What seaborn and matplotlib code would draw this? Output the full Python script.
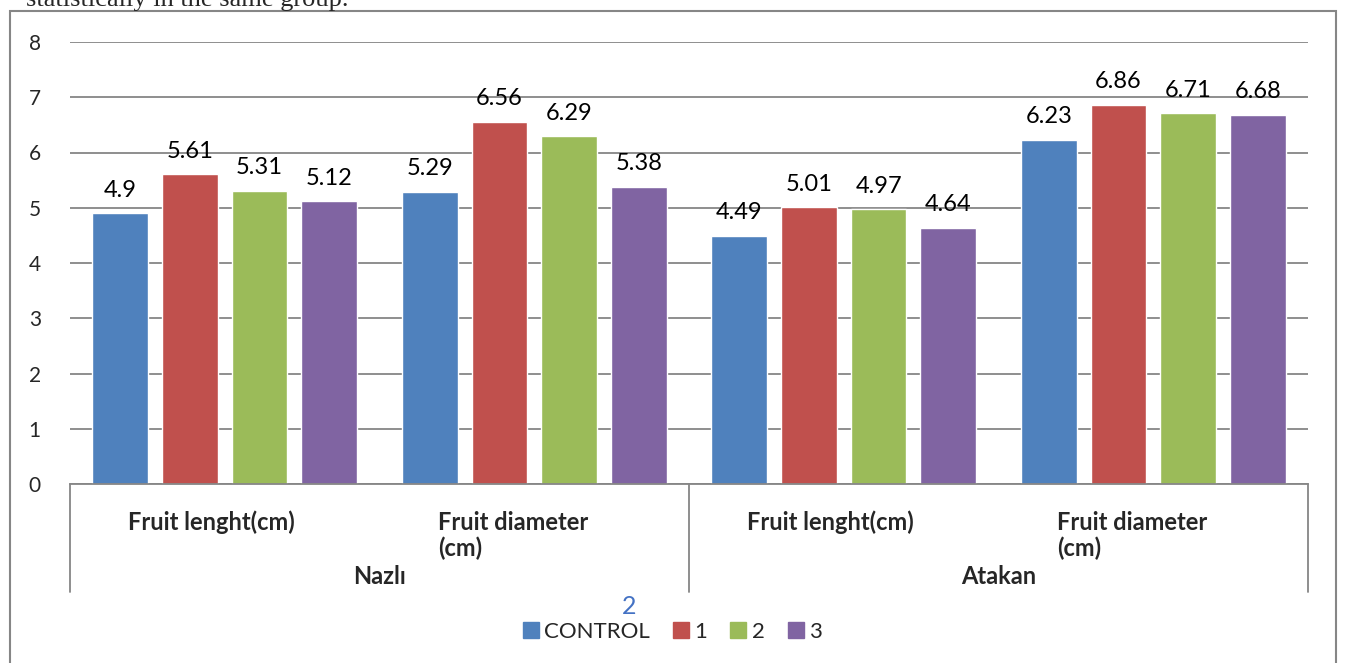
import matplotlib
matplotlib.use("Agg")
import matplotlib.pyplot as plt
import matplotlib.transforms as mtransforms
from matplotlib.patches import Rectangle
from matplotlib.lines import Line2D
import seaborn as sns
import pandas as pd

# ---- data ----
varieties = ["Nazlı", "Nazlı", "Atakan", "Atakan"]
traits = ["Fruit lenght(cm)", "Fruit diameter\n(cm)", "Fruit lenght(cm)", "Fruit diameter\n(cm)"]
treatments = ["CONTROL", "1", "2", "3"]
control = [4.9, 5.29, 4.49, 6.23]
t1 = [5.61, 6.56, 5.01, 6.86]
t2 = [5.31, 6.29, 4.97, 6.71]
t3 = [5.12, 5.38, 4.64, 6.68]
yticks = [0, 1, 2, 3, 4, 5, 6, 7, 8]

colors = ["#4F81BD", "#C0504D", "#9BBB59", "#8064A2"]

cats = [f"{v}|{t}" for v, t in zip(varieties, traits)]
rows = []
for name, vals in zip(treatments, [control, t1, t2, t3]):
    for c, v in zip(cats, vals):
        rows.append({"cat": c, "treatment": name, "value": v})
df = pd.DataFrame(rows)

sns.set_theme(style="white")
plt.rcParams["font.family"] = ["Lato", "DejaVu Sans"]

W, H = 1345, 663
fig = plt.figure(figsize=(W / 100, H / 100), dpi=100)

def fx(px):
    return px / W

def fy(py):
    return 1 - py / H

ax = fig.add_axes([fx(70), fy(484), fx(1308) - fx(70), fy(42) - fy(484)])

sns.barplot(data=df, x="cat", y="value", hue="treatment", order=cats,
            hue_order=treatments, palette=colors, width=0.9, gap=0.2,
            saturation=1, ax=ax, legend=False, errorbar=None)

for cont in ax.containers:
    ax.bar_label(cont, labels=[f"{v:g}" for v in cont.datavalues],
                 padding=9, fontsize=17, color="black")

ax.set_ylim(0, 8)
ax.set_xlim(-0.5, 3.5)
ax.set_yticks(yticks)
ax.set_yticklabels([str(t) for t in yticks], fontsize=15)
ax.tick_params(axis="y", length=0, pad=21)
ax.yaxis.grid(True, color="#868686", linewidth=1.3)
ax.set_axisbelow(True)
ax.set_xticks([])
ax.set_xlabel("")
ax.set_ylabel("")
for s in ["left", "right", "top"]:
    ax.spines[s].set_visible(False)
ax.spines["bottom"].set_color("#868686")
ax.spines["bottom"].set_linewidth(1.3)

# multi-level category axis: x in data units, y in figure fraction
trans = mtransforms.blended_transform_factory(ax.transData, fig.transFigure)
for xb in [-0.5, 1.5, 3.5]:
    ax.add_line(Line2D([xb, xb], [fy(484), fy(592)], transform=trans,
                       color="#868686", linewidth=1.3, clip_on=False))

offset = -96.5 / 309.5  # label left edge relative to category centre
for i, t in enumerate(traits):
    lines = t.split("\n")
    for j, ln in enumerate(lines):
        ax.text(i + offset, fy(530 + 26 * j), ln, transform=trans,
                ha="left", va="baseline", fontsize=17, fontweight="bold",
                clip_on=False)

for k, v in enumerate(["Nazlı", "Atakan"]):
    ax.text(2 * k + 0.5, fy(584), v, transform=trans, ha="center",
            va="baseline", fontsize=17, fontweight="bold", clip_on=False)

# legend
handles = [Line2D([], [], marker="s", linestyle="none", markersize=11,
                  markerfacecolor=c, markeredgecolor=c) for c in colors]
fig.legend(handles, treatments, loc="center", bbox_to_anchor=(fx(672), fy(632)),
           ncol=4, frameon=False, fontsize=16, handletextpad=0.2,
           columnspacing=1.0, handlelength=0.8)

# stray "2" above legend
fig.text(fx(629), fy(607), "2", color="#4472C4", fontsize=18,
         ha="center", va="center")

# outer frame
fig.add_artist(Rectangle((fx(10), fy(700)), fx(1336) - fx(10), fy(11) - fy(700),
                         transform=fig.transFigure, fill=False,
                         edgecolor="#868686", linewidth=1.5, clip_on=False))

# cut-off text above the chart (only its lower part is visible in the reference)
fig.text(fx(26), fy(0), "statistically in the same group.", fontsize=19,
         family=["Liberation Serif", "DejaVu Serif"], ha="left", va="center")

fig.savefig("out.png", dpi=100)
